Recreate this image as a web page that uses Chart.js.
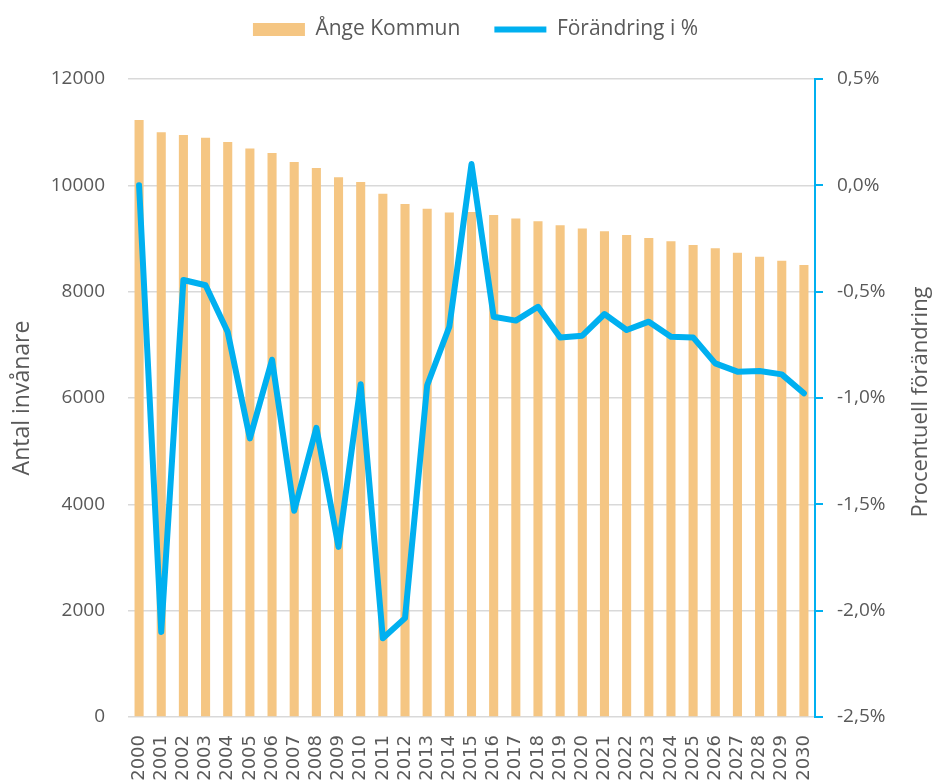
<!DOCTYPE html>
<html>
<head>
<meta charset="utf-8">
<script src="https://cdn.jsdelivr.net/npm/chart.js@4.4.1/dist/chart.umd.min.js"></script>
<style>
    html, body { margin: 0; padding: 0; background: #fff; overflow: hidden; }
    #wrap { width: 935px; height: 782px; }
</style>
</head>
<body>
<div id="wrap"><canvas id="chart" width="935" height="782"></canvas></div>
<script>
const years = ["2000", "2001", "2002", "2003", "2004", "2005", "2006", "2007", "2008", "2009",
    "2010", "2011", "2012", "2013", "2014", "2015", "2016", "2017", "2018", "2019",
    "2020", "2021", "2022", "2023", "2024", "2025", "2026", "2027", "2028", "2029", "2030"];

const population = [11230, 11000, 10945, 10895, 10815, 10695, 10610, 10440, 10325, 10150,
    10065, 9840, 9650, 9560, 9490, 9500, 9440, 9375, 9325, 9250,
    9190, 9135, 9065, 9010, 8950, 8880, 8815, 8730, 8655, 8580, 8500];

const changePct = [0.0, -2.10, -0.445, -0.47, -0.69, -1.19, -0.82, -1.53, -1.14, -1.70,
    -0.935, -2.13, -2.035, -0.94, -0.665, 0.10, -0.618, -0.636, -0.571, -0.715,
    -0.707, -0.605, -0.680, -0.641, -0.712, -0.715, -0.837, -0.876, -0.873, -0.889, -0.978];

const textColor = "#595959";
const barColor = "#F5C683";
const lineColor = "#00B0F0";

// right axis title reads bottom-to-top, Chart.js would draw it the other way
const rightTitle = {
    id: "rightTitle",
    afterDraw(chart) {
        const ctx = chart.ctx;
        const area = chart.chartArea;
        ctx.save();
        ctx.translate(921, (area.top + area.bottom) / 2 + 4);
        ctx.rotate(-Math.PI / 2);
        ctx.font = "22px 'Open Sans'";
        ctx.fillStyle = textColor;
        ctx.textAlign = "center";
        ctx.textBaseline = "middle";
        ctx.fillText("Procentuell förändring", 0, 0);
        ctx.restore();
    }
};

// give the legend a fixed height so the plot starts lower
const legendHeight = {
    id: "legendHeight",
    beforeLayout(chart) {
        const legend = chart.legend;
        if (!legend || legend._fixedFit) return;
        const fit = legend.fit.bind(legend);
        legend.fit = function () {
            fit();
            this.height = 94;
        };
        legend._fixedFit = true;
    }
};

new Chart(document.getElementById("chart"), {
    data: {
        labels: years,
        datasets: [{
            type: "bar",
            label: "Ånge Kommun",
            data: population,
            backgroundColor: barColor,
            borderWidth: 0,
            barPercentage: 0.41,
            categoryPercentage: 1,
            pointStyle: "rect",
            yAxisID: "y",
            order: 1
        }, {
            type: "line",
            label: "Förändring i %",
            data: changePct,
            borderColor: lineColor,
            backgroundColor: lineColor,
            borderWidth: 6,
            borderJoinStyle: "round",
            borderCapStyle: "round",
            pointRadius: 0,
            pointStyle: "line",
            tension: 0,
            yAxisID: "y1",
            order: 0
        }]
    },
    options: {
        responsive: false,
        animation: false,
        layout: { padding: { top: -15, right: 0, left: 16, bottom: 0 } },
        plugins: {
            legend: {
                position: "top",
                labels: {
                    usePointStyle: true,
                    pointStyleWidth: 52,
                    boxHeight: 13,
                    padding: 34,
                    color: textColor,
                    font: { family: "'Open Sans'", size: 21 },
                    sort: (a, b) => a.datasetIndex - b.datasetIndex
                }
            },
            tooltip: { enabled: false }
        },
        scales: {
            x: {
                grid: { display: false },
                border: { display: false },
                ticks: {
                    minRotation: 90,
                    maxRotation: 90,
                    autoSkip: false,
                    padding: 10,
                    color: textColor,
                    font: { family: "'DejaVu Sans'", size: 18 }
                },
                afterFit(scale) { scale.height = 65; }
            },
            y: {
                position: "left",
                min: 0,
                max: 12000,
                ticks: {
                    stepSize: 2000,
                    padding: 23,
                    color: textColor,
                    font: { family: "'Open Sans'", size: 19 },
                    callback: v => String(v)
                },
                grid: { color: "#D9D9D9", lineWidth: 1.5, drawTicks: false },
                border: { display: false },
                title: {
                    display: true,
                    text: "Antal invånare",
                    color: textColor,
                    font: { family: "'Open Sans'", size: 23 },
                    padding: { top: -7, bottom: 0 }
                },
                afterFit(scale) { scale.width = 112; }
            },
            y1: {
                position: "right",
                min: -2.5,
                max: 0.5,
                ticks: {
                    stepSize: 0.5,
                    padding: 14,
                    color: textColor,
                    font: { family: "'Open Sans'", size: 19 },
                    callback: v => v.toFixed(1).replace(".", ",") + "%"
                },
                grid: { drawOnChartArea: false, color: lineColor, lineWidth: 2, tickLength: 8 },
                border: { display: true, color: lineColor, width: 2 },
                afterFit(scale) { scale.width = 120; }
            }
        }
    },
    plugins: [rightTitle, legendHeight]
});
</script>
</body>
</html>
